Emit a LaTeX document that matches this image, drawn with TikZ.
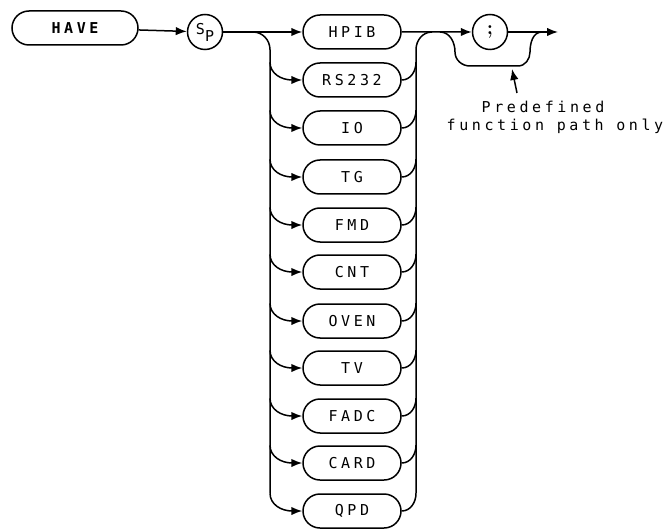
\documentclass[tikz,border=0pt]{standalone}
\usepackage{fontspec}
\usetikzlibrary{arrows.meta,shapes.misc}
\newfontfamily\plotfont[LetterSpace=24]{DejaVu Sans Mono}

\begin{document}
\begin{tikzpicture}[
    x=1pt, y=1pt, line width=1.5pt,
    kw/.style={draw, rounded rectangle, minimum width=98pt, minimum height=34pt,
      inner sep=0pt, font=\plotfont\fontsize{15}{17}\selectfont},
    sym/.style={draw, circle, minimum size=35pt, inner sep=0pt},
    note/.style={font=\plotfont\fontsize{15}{17}\selectfont, inner sep=0pt},
    arr/.style={-{Latex[length=11pt,width=8.5pt]}}
  ]
  \useasboundingbox (0,0) rectangle (668,-529);

  \node[kw, minimum width=126pt, font=\plotfont\bfseries\fontsize{15}{17}\selectfont]
    (have) at (75,-28) {HAVE};
  \node[sym, font=\plotfont\fontsize{15}{17}\selectfont] (sp) at (205,-32)
    {S\raisebox{-7pt}{P}};

  \node[kw] (hpib)  at (352,-32)  {HPIB};
  \node[kw] (rs232) at (352,-80)  {RS232};
  \node[kw] (io)    at (352,-128) {IO};
  \node[kw] (tg)    at (352,-177) {TG};
  \node[kw] (fmd)   at (352,-225) {FMD};
  \node[kw] (cnt)   at (352,-272) {CNT};
  \node[kw] (oven)  at (352,-321) {OVEN};
  \node[kw] (tv)    at (352,-368) {TV};
  \node[kw] (fadc)  at (352,-416) {FADC};
  \node[kw] (card)  at (352,-463) {CARD};
  \node[kw] (qpd)   at (352,-511) {QPD};

  \node[sym, font=\bfseries\fontsize{20}{22}\selectfont] (semi) at (490,-32) {;};

  \coordinate (busL) at (270,0);
  \coordinate (busR) at (416,0);
  \coordinate (lj) at (253,-32);
  \coordinate (out) at (558,-32);

  % main line
  \draw[arr] (have) -- (sp);
  \draw[arr] (sp) -- (hpib);
  \draw[arr] (hpib) -- (semi);
  \draw[arr] (semi) -- (out);

  % left bus and branches
  \draw (lj) to[out=0,in=90] (busL |- hpib.south) -- (busL |- qpd.north);
  \draw[arr] (busL |- rs232.north) to[out=-90,in=180] ([xshift=-10pt]rs232.west) -- (rs232.west);
  \draw[arr] (busL |- io.north) to[out=-90,in=180] ([xshift=-10pt]io.west) -- (io.west);
  \draw[arr] (busL |- tg.north) to[out=-90,in=180] ([xshift=-10pt]tg.west) -- (tg.west);
  \draw[arr] (busL |- fmd.north) to[out=-90,in=180] ([xshift=-10pt]fmd.west) -- (fmd.west);
  \draw[arr] (busL |- cnt.north) to[out=-90,in=180] ([xshift=-10pt]cnt.west) -- (cnt.west);
  \draw[arr] (busL |- oven.north) to[out=-90,in=180] ([xshift=-10pt]oven.west) -- (oven.west);
  \draw[arr] (busL |- tv.north) to[out=-90,in=180] ([xshift=-10pt]tv.west) -- (tv.west);
  \draw[arr] (busL |- fadc.north) to[out=-90,in=180] ([xshift=-10pt]fadc.west) -- (fadc.west);
  \draw[arr] (busL |- card.north) to[out=-90,in=180] ([xshift=-10pt]card.west) -- (card.west);
  \draw[arr] (busL |- qpd.north) to[out=-90,in=180] ([xshift=-10pt]qpd.west) -- (qpd.west);

  % right bus
  \draw (busR |- qpd.north) -- (busR |- hpib.south) to[out=90,in=180] (432,-32);
  \draw (rs232.east) to[out=0,in=-90] (busR |- rs232.north);
  \draw (io.east) to[out=0,in=-90] (busR |- io.north);
  \draw (tg.east) to[out=0,in=-90] (busR |- tg.north);
  \draw (fmd.east) to[out=0,in=-90] (busR |- fmd.north);
  \draw (cnt.east) to[out=0,in=-90] (busR |- cnt.north);
  \draw (oven.east) to[out=0,in=-90] (busR |- oven.north);
  \draw (tv.east) to[out=0,in=-90] (busR |- tv.north);
  \draw (fadc.east) to[out=0,in=-90] (busR |- fadc.north);
  \draw (card.east) to[out=0,in=-90] (busR |- card.north);
  \draw (qpd.east) to[out=0,in=-90] (busR |- qpd.north);

  % bypass of the semicolon
  \coordinate (byin) at (440,-32);
  \coordinate (byout) at (542,-32);
  \draw (byin) to[out=0,in=90] (455,-52) to[out=-90,in=180] (470,-66)
    -- (518,-66) to[out=0,in=-90] (530,-52) to[out=90,in=180] (byout);

  \coordinate (tip) at (512,-69);
  \coordinate (tail) at (517,-93);
  \draw[arr] (tail) -- (tip);
  \node[note] (note1) at (543,-107) {Predefined};
  \node[note] (note2) at (555,-126) {function path only};
\end{tikzpicture}
\end{document}
